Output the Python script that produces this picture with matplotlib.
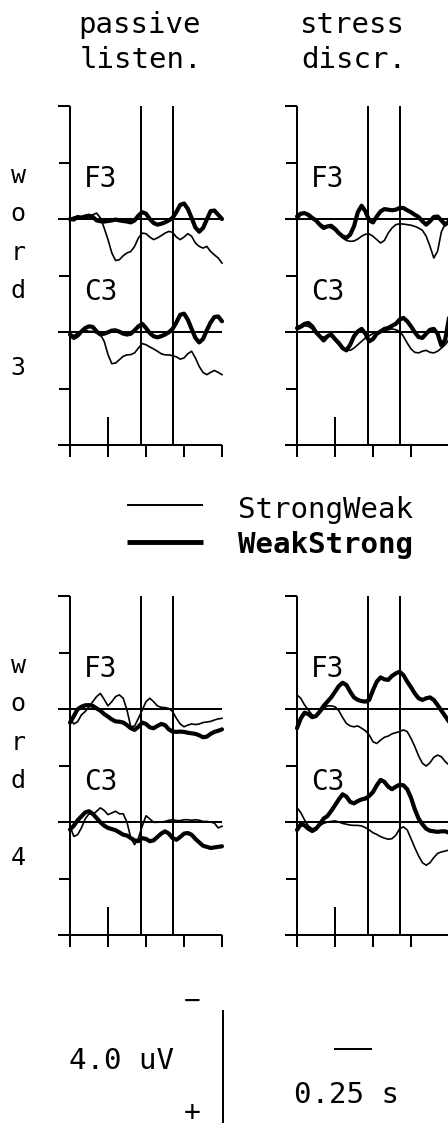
import matplotlib
matplotlib.use("Agg")
import matplotlib.pyplot as plt
from matplotlib.lines import Line2D

# ---------------- data ----------------
TIME_START = -0.25      # s relative to word onset
TIME_STEP = 0.025
N_SAMPLES = 41
times = [TIME_START + i * TIME_STEP for i in range(N_SAMPLES)]

conditions = ["StrongWeak", "WeakStrong"]
task_titles = [("passive", "listen."), ("stress", "discr.")]
word_labels = ["word 3", "word 4"]
electrodes = ["F3", "C3"]
marker_times = [0.22, 0.425]
onset_time = 0.0
x_ticks = [-0.25, 0.0, 0.25, 0.5, 0.75]
y_ticks = [-4, -2, 0, 2, 4, 6, 8]
scale_uv = 4.0
scale_s = 0.25

# amplitudes in uV (positive plotted downward)
# word 3, passive listening
w3_pas_F3_sw = [0, -0.07, -0.09, -0.07, -0.12, -0.09, -0.15, -0.21, -0.04, 0.32, 0.73, 1.20, 1.47, 1.44, 1.30,
                1.20, 1.15, 0.97, 0.67, 0.50, 0.52, 0.64, 0.73, 0.67, 0.59, 0.50, 0.44, 0.47, 0.64, 0.73,
                0.64, 0.52, 0.61, 0.85, 0.97, 1.03, 0.97, 1.15, 1.27, 1.38, 1.56]
w3_pas_F3_ws = [0, 0.02, -0.07, -0.05, -0.09, -0.12, -0.07, 0.05, 0.08, 0.09, 0.07, 0.05, 0.02, 0.05, 0.07,
                0.09, 0.12, 0.05, -0.12, -0.24, -0.19, 0, 0.14, 0.20, 0.17, 0.12, 0.05, -0.04, -0.25, -0.50,
                -0.55, -0.36, -0.04, 0.30, 0.45, 0.32, 0.02, -0.28, -0.30, -0.15, 0]
w3_pas_C3_sw = [0.04, 0.13, 0.04, -0.02, -0.06, -0.02, -0.02, 0.04, 0.09, 0.33, 0.80, 1.12, 1.10, 0.98, 0.86,
                0.81, 0.80, 0.74, 0.57, 0.41, 0.45, 0.53, 0.60, 0.68, 0.77, 0.81, 0.81, 0.84, 0.88, 0.96,
                0.92, 0.77, 0.68, 0.92, 1.22, 1.43, 1.51, 1.43, 1.36, 1.43, 1.51]
w3_pas_C3_ws = [0.09, 0.21, 0.13, -0.02, -0.14, -0.20, -0.18, -0.02, 0.09, 0.06, 0.01, -0.05, -0.06, -0.01, 0.06,
                0.09, 0.06, -0.06, -0.20, -0.29, -0.14, 0.04, 0.15, 0.19, 0.15, 0.09, 0.01, -0.11, -0.34, -0.61,
                -0.65, -0.44, -0.11, 0.21, 0.37, 0.25, -0.06, -0.34, -0.53, -0.55, -0.38]
# word 3, stress discrimination
w3_dis_F3_sw = [0.05, -0.15, -0.19, -0.09, 0, 0.05, 0.17, 0.24, 0.26, 0.32, 0.40, 0.52, 0.67, 0.76, 0.79,
                0.78, 0.71, 0.61, 0.54, 0.53, 0.61, 0.73, 0.85, 0.76, 0.50, 0.32, 0.20, 0.17, 0.18, 0.20,
                0.22, 0.26, 0.32, 0.40, 0.61, 0.97, 1.38, 1.14, 0.45, 0.18, 0.05]
w3_dis_F3_ws = [-0.09, -0.19, -0.21, -0.15, -0.04, 0.05, 0.20, 0.32, 0.26, 0.24, 0.35, 0.50, 0.61, 0.67, 0.55,
                0.26, -0.24, -0.47, -0.27, 0.05, 0.12, -0.09, -0.27, -0.35, -0.33, -0.31, -0.33, -0.39, -0.39, -0.31,
                -0.24, -0.15, -0.07, 0.08, 0.20, 0.08, -0.07, -0.09, 0.05, 0.20, 0.08]
w3_dis_C3_sw = [-0.08, -0.14, -0.22, -0.20, -0.11, 0.06, 0.15, 0.18, 0.13, 0.15, 0.30, 0.45, 0.57, 0.63, 0.65,
                0.57, 0.45, 0.33, 0.21, 0.13, 0.06, 0.01, -0.02, -0.06, -0.08, -0.11, -0.08, -0.02, 0.15, 0.39,
                0.60, 0.72, 0.74, 0.68, 0.65, 0.72, 0.74, 0.68, 0.57, 0.45, 0.27]
w3_dis_C3_ws = [-0.14, -0.20, -0.29, -0.32, -0.20, 0.01, 0.15, 0.30, 0.15, 0.09, 0.25, 0.39, 0.57, 0.65, 0.45,
                0.15, -0.02, -0.11, 0.06, 0.33, 0.25, 0.06, -0.02, -0.11, -0.14, -0.22, -0.29, -0.44, -0.50, -0.38,
                -0.20, 0.01, 0.18, 0.21, 0.06, -0.08, -0.11, 0.06, 0.48, 0.27, -0.50]
# word 4, passive listening
w4_pas_F3_sw = [0.33, 0.53, 0.45, 0.21, 0.09, -0.08, -0.26, -0.44, -0.55, -0.34, -0.11, -0.26, -0.44, -0.50, -0.38,
                0.04, 0.63, 0.60, 0.33, 0.04, -0.26, -0.38, -0.26, -0.11, -0.06, -0.05, -0.02, 0.09, 0.33, 0.53,
                0.63, 0.57, 0.53, 0.55, 0.53, 0.48, 0.46, 0.44, 0.39, 0.35, 0.33]
w4_pas_F3_ws = [0.48, 0.25, 0.01, -0.08, -0.13, -0.14, -0.11, -0.02, 0.06, 0.18, 0.27, 0.37, 0.44, 0.45, 0.48,
                0.57, 0.68, 0.74, 0.63, 0.48, 0.53, 0.65, 0.68, 0.60, 0.53, 0.57, 0.72, 0.80, 0.81, 0.80,
                0.81, 0.84, 0.86, 0.88, 0.93, 1.00, 0.98, 0.88, 0.81, 0.77, 0.72]
w4_pas_C3_sw = [0.15, 0.51, 0.45, 0.21, -0.11, -0.29, -0.26, -0.38, -0.50, -0.41, -0.26, -0.32, -0.38, -0.29, -0.29,
                0.01, 0.57, 0.80, 0.57, 0.15, -0.22, -0.11, 0.01, 0.01, 0, -0.02, -0.06, -0.08, -0.05, -0.05,
                -0.08, -0.08, -0.06, -0.08, -0.06, -0.02, -0.02, 0, 0.04, 0.21, 0.15]
w4_pas_C3_ws = [0.27, 0.13, -0.06, -0.20, -0.34, -0.38, -0.29, -0.14, 0.01, 0.13, 0.21, 0.25, 0.29, 0.37, 0.45,
                0.48, 0.57, 0.65, 0.68, 0.57, 0.60, 0.68, 0.65, 0.53, 0.41, 0.33, 0.41, 0.57, 0.63, 0.53,
                0.41, 0.39, 0.45, 0.60, 0.72, 0.84, 0.88, 0.92, 0.90, 0.88, 0.86]
# word 4, stress discrimination
w4_dis_F3_sw = [-0.50, -0.38, -0.14, 0.04, 0.21, 0.27, 0.15, -0.02, -0.11, -0.11, -0.08, 0.06, 0.30, 0.51, 0.60,
                0.63, 0.60, 0.68, 0.77, 0.92, 1.16, 1.22, 1.10, 1.00, 0.96, 0.88, 0.84, 0.80, 0.74, 0.80,
                1.04, 1.33, 1.66, 1.92, 2.02, 1.90, 1.71, 1.63, 1.69, 1.86, 1.98]
w4_dis_F3_ws = [0.68, 0.33, 0.13, 0.18, 0.29, 0.25, 0.09, -0.11, -0.26, -0.41, -0.61, -0.81, -0.93, -0.85, -0.61,
                -0.41, -0.32, -0.28, -0.26, -0.32, -0.67, -0.97, -1.12, -1.05, -1.03, -1.17, -1.26, -1.32, -1.20, -0.97,
                -0.77, -0.55, -0.38, -0.32, -0.38, -0.41, -0.32, -0.14, 0.06, 0.25, 0.45]
w4_dis_C3_sw = [-0.51, -0.33, -0.07, 0.14, 0.24, 0.20, 0.12, 0.05, 0, -0.02, -0.04, 0, 0.05, 0.08, 0.11,
                0.12, 0.12, 0.14, 0.20, 0.28, 0.38, 0.44, 0.52, 0.57, 0.61, 0.59, 0.47, 0.24, 0.17, 0.28,
                0.59, 0.91, 1.20, 1.44, 1.53, 1.44, 1.26, 1.11, 1.06, 1.03, 0.99]
w4_dis_C3_ws = [0.28, 0.08, 0.12, 0.24, 0.32, 0.24, 0.08, -0.12, -0.21, -0.39, -0.59, -0.80, -0.98, -0.90, -0.71,
                -0.66, -0.74, -0.80, -0.83, -0.92, -1.06, -1.30, -1.49, -1.42, -1.25, -1.16, -1.25, -1.32, -1.30, -1.16,
                -0.86, -0.45, -0.12, 0.08, 0.24, 0.31, 0.33, 0.35, 0.33, 0.33, 0.38]

panel_data = {
    (0, 0): {"F3": (w3_pas_F3_sw, w3_pas_F3_ws), "C3": (w3_pas_C3_sw, w3_pas_C3_ws)},
    (0, 1): {"F3": (w3_dis_F3_sw, w3_dis_F3_ws), "C3": (w3_dis_C3_sw, w3_dis_C3_ws)},
    (1, 0): {"F3": (w4_pas_F3_sw, w4_pas_F3_ws), "C3": (w4_pas_C3_sw, w4_pas_C3_ws)},
    (1, 1): {"F3": (w4_dis_F3_sw, w4_dis_F3_ws), "C3": (w4_dis_C3_sw, w4_dis_C3_ws)},
}
electrode_offset = {"F3": 0.0, "C3": 4.0}

# ---------------- layout ----------------
W, H, DPI = 448, 1125, 100
PX_PER_S = 152.0
PX_PER_UV = 28.25
X_LEFT = -0.33
X_RIGHT = 0.75
Y_TOP, Y_BOT = -4.0, 8.0
panel_left_px = [70 - (x_ticks[0] - X_LEFT) * PX_PER_S, 297 - (x_ticks[0] - X_LEFT) * PX_PER_S]
panel_top_px = [106, 596]

AX_LW = 1.45
THIN_LW = 1.2
THICK_LW = 3.0
FONT = ["DejaVu Sans Mono"]
plt.rcParams["font.family"] = FONT

fig = plt.figure(figsize=(W / DPI, H / DPI), dpi=DPI)
fig.patch.set_facecolor("white")


def fx(px):
    return px / W


def fy(py):
    return 1 - py / H


def draw_panel(ax, data):
    ax.set_xlim(X_LEFT, X_RIGHT)
    ax.set_ylim(Y_BOT, Y_TOP)
    ax.axis("off")
    kw = dict(color="black", lw=AX_LW, clip_on=False, solid_capstyle="butt")
    t0 = x_ticks[0]
    tick_len = 11 / PX_PER_S
    # vertical axis
    ax.plot([t0, t0], [Y_TOP, Y_BOT], **kw)
    # y ticks (baselines drawn separately)
    for yt in y_ticks:
        if yt in electrode_offset.values() or yt == Y_BOT:
            continue
        left = X_LEFT if yt == Y_TOP else t0 - tick_len
        ax.plot([left, t0], [yt, yt], **kw)
    # baselines and bottom axis
    for yb in list(electrode_offset.values()) + [Y_BOT]:
        ax.plot([X_LEFT, X_RIGHT], [yb, yb], **kw)
    # x ticks
    for xt in x_ticks:
        ax.plot([xt, xt], [Y_BOT, Y_BOT + 12 / PX_PER_UV], **kw)
    # onset marker
    ax.plot([onset_time, onset_time], [Y_BOT - 1.0, Y_BOT], **kw)
    # vertical reference lines
    for mt in marker_times:
        ax.plot([mt, mt], [Y_TOP, Y_BOT], **kw)
    # curves
    for el in electrodes:
        sw, ws = data[el]
        off = electrode_offset[el]
        ax.plot(times, [off + v for v in sw], color="black", lw=THIN_LW,
                solid_joinstyle="round", clip_on=False)
        ax.plot(times, [off + v for v in ws], color="black", lw=THICK_LW,
                solid_joinstyle="round", solid_capstyle="round", clip_on=False)
        ax.text(t0 + 14 / PX_PER_S, off - 1.13, el, fontsize=20, ha="left",
                va="baseline", family=FONT)


ax_w = (X_RIGHT - X_LEFT) * PX_PER_S
ax_h = (Y_BOT - Y_TOP) * PX_PER_UV
for r in range(2):
    for c in range(2):
        left = panel_left_px[c]
        top = panel_top_px[r]
        ax = fig.add_axes([fx(left), fy(top + ax_h), ax_w / W, ax_h / H])
        draw_panel(ax, panel_data[(r, c)])

# column titles
title_cx = [139, 352]
for c, (l1, l2) in enumerate(task_titles):
    fig.text(fx(title_cx[c]), fy(33), l1, fontsize=21, ha="center", va="baseline")
    fig.text(fx(title_cx[c] + 2), fy(68), l2, fontsize=21, ha="center", va="baseline")

# row labels (vertical stacked letters)
for r, lab in enumerate(word_labels):
    stacked = "\n".join(list(lab))
    fig.text(fx(18), fy(164 + 490 * r), stacked, fontsize=18, ha="center",
             va="top", linespacing=1.76)

# legend
leg_y = [505, 542]
leg_lw = [THIN_LW + 0.2, THICK_LW + 0.5]
leg_weight = ["normal", "bold"]
leg_base = [518, 553]
for i, cond in enumerate(conditions):
    fig.add_artist(Line2D([fx(127), fx(203)], [fy(leg_y[i])] * 2, transform=fig.transFigure,
                          color="black", lw=leg_lw[i], solid_capstyle="butt"))
    fig.text(fx(238), fy(leg_base[i]), cond, fontsize=21, ha="left", va="baseline",
             fontweight=leg_weight[i])

# scale bars, in an axes sharing the panel scales
sb_h_px = 165
ax_sb = fig.add_axes([0, 0, 1, sb_h_px / H])
ax_sb.set_xlim(0, W / PX_PER_S)
ax_sb.set_ylim(0, sb_h_px / PX_PER_UV)
ax_sb.axis("off")
v_x = 223 / PX_PER_S
v_y0 = 2 / PX_PER_UV
ax_sb.plot([v_x, v_x], [v_y0, v_y0 + scale_uv], color="black", lw=AX_LW, solid_capstyle="butt")
h_y = (H - 1049) / PX_PER_UV
h_x0 = 334 / PX_PER_S
ax_sb.plot([h_x0, h_x0 + scale_s], [h_y, h_y], color="black", lw=AX_LW, solid_capstyle="butt")

fig.text(fx(192), fy(1001), "\u2212", fontsize=20, ha="center", va="center")
fig.text(fx(192), fy(1113), "+", fontsize=20, ha="center", va="center")
fig.text(fx(121), fy(1069), f"{scale_uv:.1f} uV", fontsize=21, ha="center", va="baseline")
fig.text(fx(346), fy(1103), f"{scale_s:.2f} s", fontsize=21, ha="center", va="baseline")

fig.savefig("out.png", dpi=DPI, facecolor="white")
